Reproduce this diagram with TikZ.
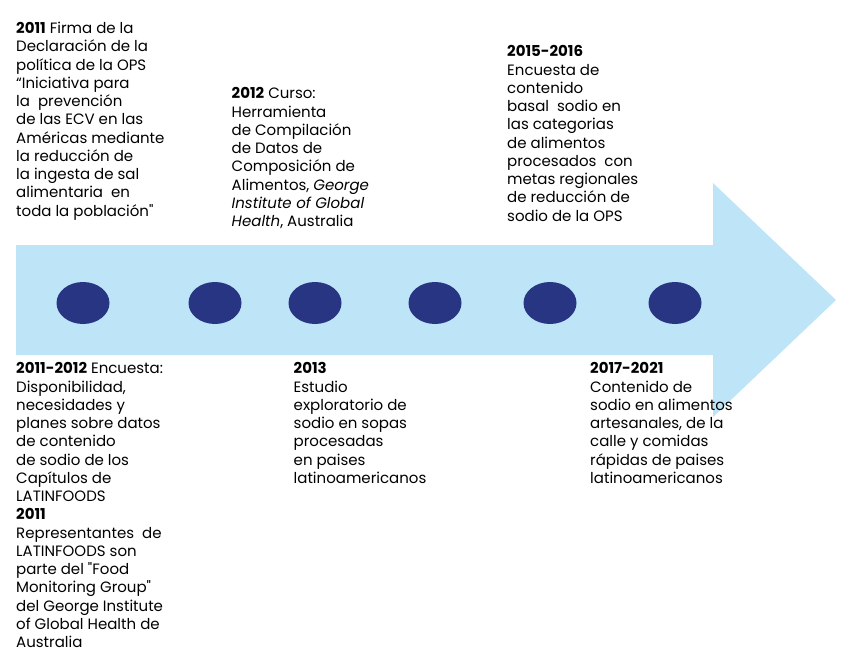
\documentclass[tikz,border=0pt]{standalone}
\usepackage{fontspec}
\setmainfont{Poppins}
\newfontfamily\plainquote{Poppins}
\usetikzlibrary{shapes.geometric}

\definecolor{arrowblue}{RGB}{190,228,248}
\definecolor{dotnavy}{RGB}{40,53,131}
\newcommand{\dq}{{\plainquote"}}

\tikzstyle{block} = [anchor=north west, inner sep=0pt, align=left, font=\fontsize{15}{18.25}\selectfont]
\tikzstyle{dot} = [ellipse, fill=dotnavy, minimum width=53pt, minimum height=42pt, inner sep=0pt]

\begin{document}
\begin{tikzpicture}[x=1pt,y=-1pt]
        \useasboundingbox (0,0) rectangle (845,655);
        % Timeline arrow
        \fill[arrowblue] (16,245) -- (713,245) -- (713,183) -- (836,300)
                -- (713,417) -- (713,355) -- (16,355) -- cycle;
        % Milestones on the arrow
        \node (d1) at (83,303) [dot] {};
        \node (d2) at (215,303) [dot] {};
        \node (d3) at (315,303) [dot] {};
        \node (d4) at (435,303) [dot] {};
        \node (d5) at (550,303) [dot] {};
        \node (d6) at (675,303) [dot] {};
        % Texts above the arrow
        \node (t2011) at (16,22) [block] {
            \textbf{2011} Firma de la\\
            Declaración de la\\
            política de la OPS\\
            “Iniciativa para\\
            la\ \ prevención\\
            de las ECV en las\\
            Américas mediante\\
            la reducción de\\
            la ingesta de sal\\
            alimentaria\ \ en\\
            toda la población\dq
};
        \node (t2012) at (231.5,87.5) [block] {
            \textbf{2012} Curso:\\
            Herramienta\\
            de Compilación\\
            de Datos de\\
            Composición de\\
            Alimentos, \textit{George}\\
            \textit{Institute of Global}\\
            \textit{Health}, Australia
};
        \node (t2015) at (507,45.5) [block] {
            \textbf{2015-2016}\\
            Encuesta de\\
            contenido\\
            basal\ \ sodio en\\
            las categorias\\
            de alimentos\\
            procesados\ \ con\\
            metas regionales\\
            de reducción de\\
            sodio de la OPS
};
        % Texts below the arrow
        \node (t2011b) at (16,362.5) [block] {
            \textbf{2011-2012} Encuesta:\\
            Disponibilidad,\\
            necesidades y\\
            planes sobre datos\\
            de contenido\\
            de sodio de los\\
            Capítulos de\\
            LATINFOODS\\
            \textbf{2011}\\
            Representantes\ \ de\\
            LATINFOODS son\\
            parte del \dq Food\\
            Monitoring Group\dq\\
            del George Institute\\
            of Global Health de\\
            Australia
};
        \node (t2013) at (293.5,362.5) [block] {
            \textbf{2013}\\
            Estudio\\
            exploratorio de\\
            sodio en sopas\\
            procesadas\\
            en paises\\
            latinoamericanos
};
        \node (t2017) at (590,362.5) [block] {
            \textbf{2017-2021}\\
            Contenido de\\
            sodio en alimentos\\
            artesanales, de la\\
            calle y comidas\\
            rápidas de paises\\
            latinoamericanos
};
    \end{tikzpicture}
\end{document}
